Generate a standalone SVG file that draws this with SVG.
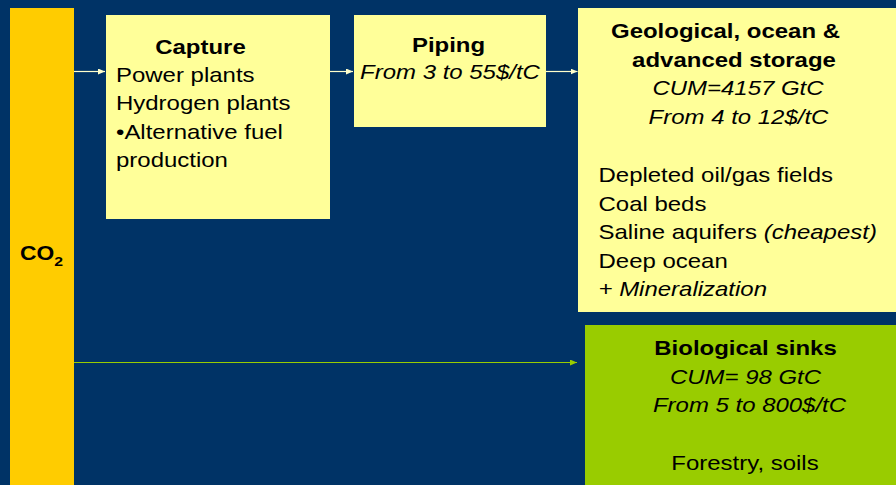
<svg xmlns="http://www.w3.org/2000/svg" width="896" height="485" viewBox="0 0 896 485">
<style>
text{font-family:"Liberation Sans",Arial,sans-serif;font-size:20.4px;fill:#000}
.b{font-weight:bold}
.i{font-style:italic}
.m{text-anchor:middle}
.yel{fill:#FFFF99}
.wl{stroke:#FFFFCC;stroke-width:1.2;fill:none}
.gl{stroke:#99CC00;stroke-width:1.2;fill:none}
</style>
<defs>
<marker id="aw" markerUnits="userSpaceOnUse" markerWidth="8" markerHeight="7" refX="7" refY="3" orient="auto"><path d="M0,0 L7,3 L0,6 z" fill="#FFFFCC"/></marker>
<marker id="ag" markerUnits="userSpaceOnUse" markerWidth="8" markerHeight="7" refX="7" refY="3" orient="auto"><path d="M0,0 L7,3 L0,6 z" fill="#99CC00"/></marker>
</defs>
<rect width="896" height="485" fill="#003366"/>
<g id="co2">
<rect x="10" y="8" width="64" height="480" fill="#FFCC00"/>
<text class="b" transform="translate(20,259.5) scale(1.17,1)" style="font-size:19.5px">CO<tspan style="font-size:13.5px" dy="6">2</tspan></text>
</g>
<g id="capture">
<rect class="yel" x="106" y="15" width="224" height="204"/>
<text class="b m" transform="translate(200.5,54) scale(1.175,1)">Capture</text>
<text transform="translate(116,0) scale(1.175,1)"><tspan x="0" y="82">Power plants</tspan><tspan x="0" y="110.5">Hydrogen plants</tspan><tspan x="0" y="139">•Alternative fuel</tspan><tspan x="0" y="167.5">production</tspan></text>
</g>
<g id="piping">
<rect class="yel" x="354" y="15" width="192" height="112"/>
<text class="b m" transform="translate(448.5,52) scale(1.175,1)">Piping</text>
<text class="i m" transform="translate(450,79) scale(1.175,1)">From 3 to 55$/tC</text>
</g>
<g id="storage">
<rect class="yel" x="578" y="8" width="330" height="304"/>
<text class="b m" transform="translate(725.5,38) scale(1.175,1)">Geological, ocean &amp;</text>
<text class="b m" transform="translate(734,66.7) scale(1.175,1)">advanced storage</text>
<text class="i m" transform="translate(738,95.4) scale(1.175,1)">CUM=4157 GtC</text>
<text class="i m" transform="translate(738.5,124) scale(1.175,1)">From 4 to 12$/tC</text>
<text transform="translate(598.5,0) scale(1.175,1)"><tspan x="0" y="182.5">Depleted oil/gas fields</tspan><tspan x="0" y="211">Coal beds</tspan><tspan x="0" y="239.5">Saline aquifers <tspan class="i">(cheapest)</tspan></tspan><tspan x="0" y="268">Deep ocean</tspan><tspan x="0" y="296.5" class="i">+ Mineralization</tspan></text>
</g>
<g id="bio">
<rect x="585" y="325" width="320" height="170" fill="#99CC00"/>
<text class="b m" transform="translate(745.5,355) scale(1.175,1)">Biological sinks</text>
<text class="i m" transform="translate(745.5,383.5) scale(1.175,1)">CUM= 98 GtC</text>
<text class="i m" transform="translate(749.5,412) scale(1.175,1)">From 5 to 800$/tC</text>
<text class="m" transform="translate(745,470) scale(1.175,1)">Forestry, soils</text>
</g>
<g id="connectors">
<line class="wl" x1="74" y1="71.5" x2="105" y2="71.5" marker-end="url(#aw)"/>
<line class="wl" x1="330" y1="71.5" x2="353" y2="71.5" marker-end="url(#aw)"/>
<line class="wl" x1="546" y1="71.5" x2="577.5" y2="71.5" marker-end="url(#aw)"/>
<line class="gl" x1="74" y1="362.5" x2="577" y2="362.5" marker-end="url(#ag)"/>
</g>
</svg>
